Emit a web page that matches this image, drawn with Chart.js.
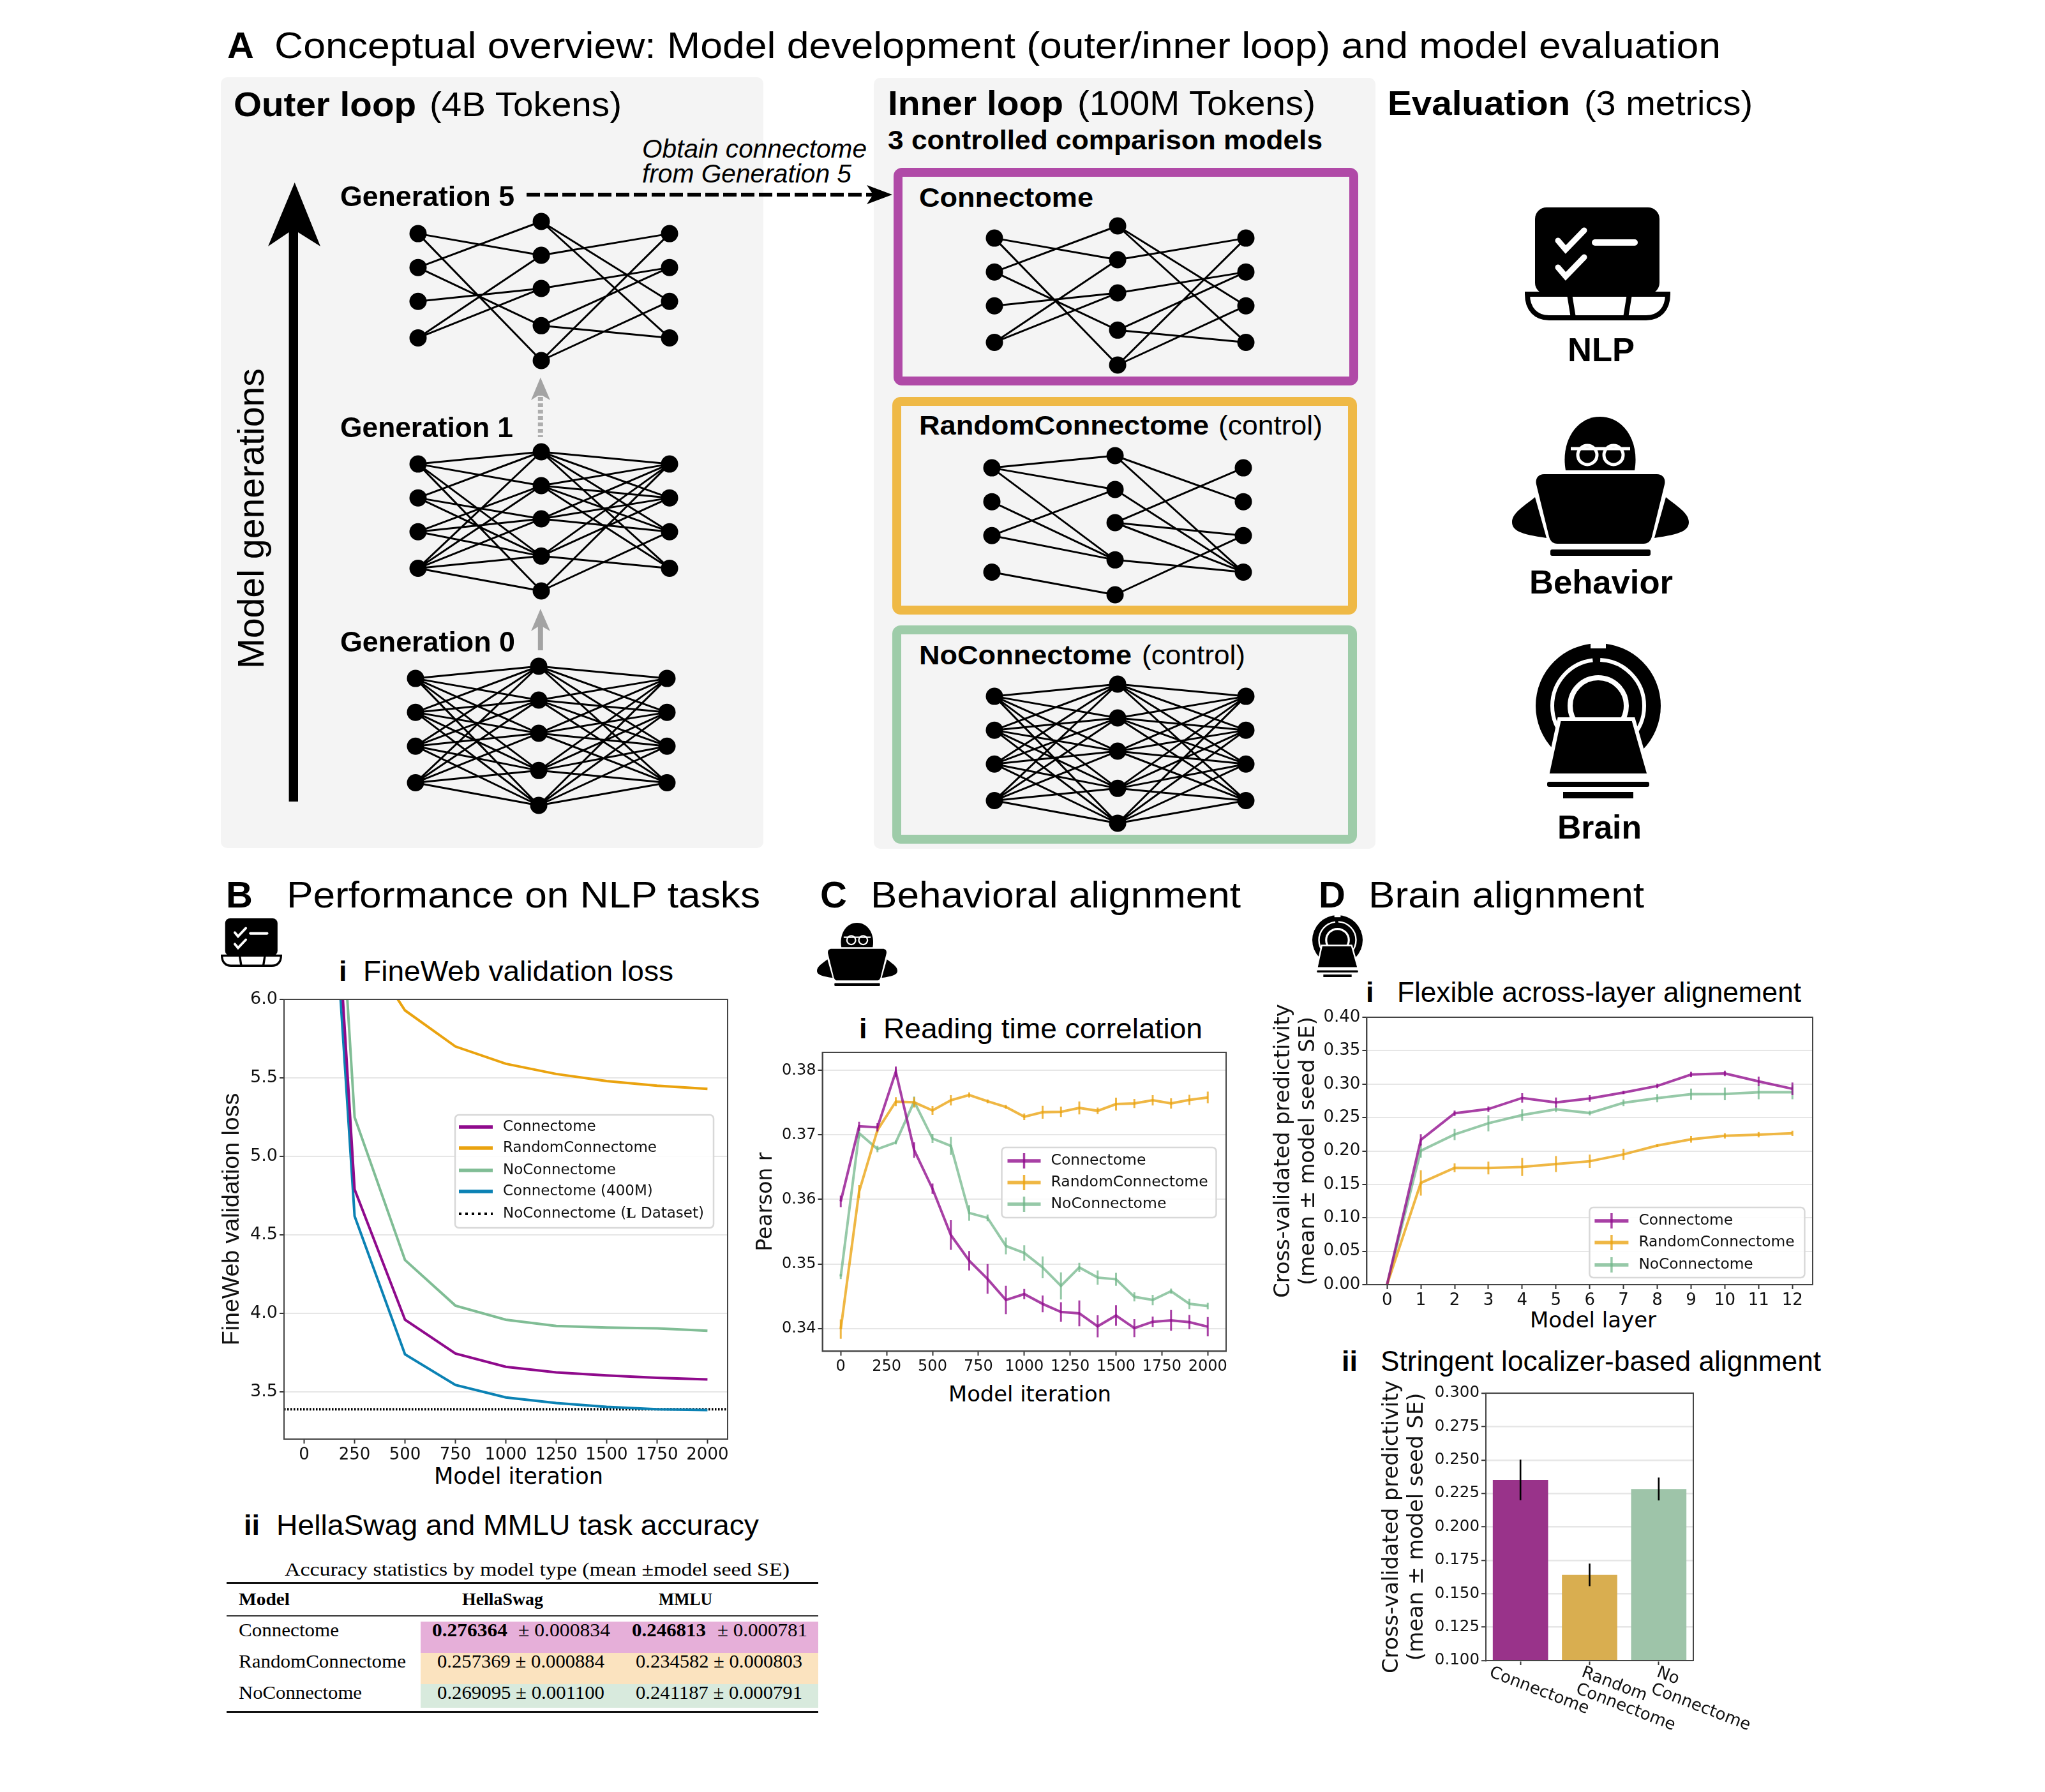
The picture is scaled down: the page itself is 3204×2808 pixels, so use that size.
<!DOCTYPE html>
<html>
<head>
<meta charset="utf-8">
<title>Connectome figure</title>
<script src="https://cdn.jsdelivr.net/npm/chart.js@4"></script>
<style>
html,body{margin:0;padding:0;background:#fff;}
#page{position:relative;width:3204px;height:2808px;overflow:hidden;background:#fff;}
#page canvas{position:absolute;}
.txt{position:absolute;white-space:pre;line-height:0;color:#000;font-family:"Liberation Sans",sans-serif;transform-origin:0 0;}
.box{position:absolute;box-sizing:border-box;}
svg{position:absolute;overflow:visible;}
</style>
</head>
<body>
<div id="page">
<svg width="0" height="0" style="left:0;top:0">
  <defs>
    <symbol id="laptop" viewBox="0 0 228 177" preserveAspectRatio="none">
      <rect x="16" y="0" width="195" height="136" rx="18" fill="#000"/>
      <path d="M4 136H224C224 160 210 173 190 173H38C18 173 4 160 4 136Z" fill="#fff" stroke="#000" stroke-width="8"/>
      <path d="M70 136L76 173M158 173L164 136" stroke="#000" stroke-width="8"/>
      <path d="M52 52L64 66L93 36M52 94L64 108L93 78" fill="none" stroke="#fff" stroke-width="9" stroke-linecap="round"/>
      <path d="M110 55H172" stroke="#fff" stroke-width="10" stroke-linecap="round"/>
    </symbol>
    <symbol id="reader" viewBox="0 0 277 218" preserveAspectRatio="none">
      <path d="M84 84C76 40 100 0 138 0C176 0 200 40 192 84Z" fill="#000"/>
      <circle cx="118" cy="60" r="15" fill="none" stroke="#fff" stroke-width="5"/>
      <circle cx="159" cy="60" r="15" fill="none" stroke="#fff" stroke-width="5"/>
      <path d="M92 50H185" stroke="#fff" stroke-width="5"/>
      <path d="M50 90H227C236 90 241 97 239 106L219 188C217 195 213 199 206 199H71C64 199 60 195 58 188L38 106C36 97 41 90 50 90Z" fill="#000"/>
      <path d="M36 126C22 138 0 150 0 165C0 178 12 184 54 190Z" fill="#000"/>
      <path d="M241 126C255 138 277 150 277 165C277 178 265 184 223 190Z" fill="#000"/>
      <rect x="60" y="208" width="157" height="10" rx="3" fill="#000"/>
    </symbol>
    <symbol id="mri" viewBox="0 0 196 243" preserveAspectRatio="none">
      <ellipse cx="98" cy="98" rx="98" ry="98" fill="#000"/>
      <rect x="86" y="0" width="24" height="8" fill="#fff"/>
      <circle cx="98" cy="98" r="72" fill="none" stroke="#fff" stroke-width="6" stroke-dasharray="330 12"/>
      <circle cx="98" cy="98" r="44" fill="none" stroke="#fff" stroke-width="8"/>
      <path d="M0 130L14 212H182L196 130V243H0Z" fill="#fff"/>
      <path d="M37 119H153L178 207H18Z" fill="#000" stroke="#fff" stroke-width="6"/>
      <rect x="18" y="217" width="160" height="8" rx="3" fill="#000"/>
      <rect x="43" y="233" width="110" height="10" fill="#000"/>
    </symbol>
  </defs>
</svg>
</div>
<script>
// panel B i: FineWeb validation loss
const lossIterations = [0, 250, 500, 750, 1000, 1250, 1500, 1750, 2000];
const lossConnectome = [10.0, 4.79, 3.96, 3.745, 3.66, 3.625, 3.605, 3.59, 3.58];
const lossRandom = [10.8, 6.42, 5.93, 5.70, 5.59, 5.525, 5.48, 5.45, 5.43];
const lossNoConn = [10.45, 5.25, 4.34, 4.05, 3.96, 3.92, 3.91, 3.905, 3.89];
const loss400M = [9.6, 4.62, 3.74, 3.545, 3.465, 3.43, 3.405, 3.39, 3.385];
const lossLDatasetX = [-100, 2100];
const lossLDataset = [3.39, 3.39];
const iterationTicks = [0, 250, 500, 750, 1000, 1250, 1500, 1750, 2000];
const lossTicks = [3.5, 4.0, 4.5, 5.0, 5.5, 6.0];

// panel C i: reading time correlation
const readIterations = [0, 100, 200, 300, 400, 500, 600, 700, 800, 900, 1000, 1100, 1200, 1300, 1400, 1500, 1600, 1700, 1800, 1900, 2000];
const readConnectome = [.3597, .37135, .37118, .3798, .36765, .36166, .35448, .3505, .34767, .34441, .34533, .34381, .34256, .34234, .34033, .34201, .34005, .34103, .34125, .34098, .34027];
const readConnectomeSE = [.0009, .0007, .00065, .0008, .0012, .0008, .0023, .0015, .0023, .0022, .0008, .0013, .0015, .002, .0017, .0016, .0014, .0008, .0016, .0011, .0015];
const readRandom = [.3399, .36122, .37075, .37516, .37505, .3738, .37537, .37619, .37521, .37434, .37282, .37352, .37358, .37418, .37374, .37478, .37488, .37537, .37488, .37543, .37581];
const readRandomSE = [.0015, .001, .0004, .0007, .0008, .0007, .0008, .0004, .0003, .0003, .0005, .001, .0008, .001, .0005, .001, .0007, .0008, .0008, .0008, .0009];
const readNoConn = [.34805, .37026, .36781, .36884, .37516, .36944, .3683, .3579, .35714, .35279, .3517, .34947, .34659, .34947, .34789, .34762, .3449, .34441, .34577, .34381, .34348];
const readNoConnSE = [.0004, .0008, .0005, .0003, .0008, .0007, .0014, .0012, .0005, .0013, .0012, .0017, .0021, .0007, .0011, .001, .0007, .0008, .0004, .0008, .0005];
const pearsonTicks = [.34, .35, .36, .37, .38];

// panel D i: flexible across-layer alignment
const layers = [0, 1, 2, 3, 4, 5, 6, 7, 8, 9, 10, 11, 12];
const layerConnectome = [0, .2166, .2563, .2627, .2793, .2725, .2785, .2874, .2972, .3143, .3160, .3041, .2930];
const layerConnectomeSE = [0, .0085, .004, .004, .007, .0075, .005, .0025, .0035, .004, .004, .007, .0095];
const layerRandom = [0, .1522, .1748, .1744, .1761, .1804, .1846, .1949, .2081, .2175, .2226, .2243, .2264];
const layerRandomSE = [0, .019, .0065, .0095, .0135, .012, .010, .0085, .002, .005, .004, .004, .004];
const layerNoConn = [0, .2004, .2247, .2414, .2537, .2623, .2567, .2721, .2789, .2849, .2853, .2878, .2878];
const layerNoConnSE = [0, .0105, .0085, .012, .0085, .004, .0035, .005, .006, .0085, .0095, .0105, .0105];
const predictivityTicks = [0, .05, .10, .15, .20, .25, .30, .35, .40];

// panel D ii: stringent localizer-based alignment
const barLabels = [['Connectome'], ['Random', 'Connectome'], ['No', 'Connectome']];
const barValues = [.2351, .1641, .2283];
const barSE = [.015, .0083, .0084];
const barTicks = [.100, .125, .150, .175, .200, .225, .250, .275, .300];

// panel B ii: accuracy table
const tableModels = ['Connectome', 'RandomConnectome', 'NoConnectome'];
const hellaMean = ['0.276364', '0.257369', '0.269095'];
const hellaSE = ['0.000834', '0.000884', '0.001100'];
const mmluMean = ['0.246813', '0.234582', '0.241187'];
const mmluSE = ['0.000781', '0.000803', '0.000791'];

// panel A: schematic networks, rows in node spacing units
const leftRows = [0, 1, 2, 3.08];
const midRows = [-0.36, 0.64, 1.62, 2.72, 3.75];
const layerPos = [0, 0.49, 1];
const sparseIn = [[0,1],[0,4],[1,0],[1,3],[2,2],[3,1],[3,2]];
const sparseOut = [[0,2],[0,3],[1,0],[2,1],[3,1],[3,3],[4,0],[4,2]];
const gen1In = [[0,0],[0,1],[0,3],[0,4],[1,0],[1,2],[1,3],[2,2],[2,3],[2,1],[3,0],[3,1],[3,2],[3,3],[3,4]];
const gen1Out = [[0,0],[0,2],[0,3],[0,1],[1,0],[1,1],[1,2],[1,3],[2,0],[2,1],[2,2],[3,0],[3,1],[3,3],[4,0],[4,2]];
const randIn = [[0,0],[0,1],[0,3],[1,3],[2,1],[2,3],[3,4]];
const randOut = [[0,1],[0,3],[1,3],[2,0],[2,2],[2,3],[3,3],[4,2]];
const fullIn = [], fullOut = [];
leftRows.forEach((a, i) => midRows.forEach((b, j) => { fullIn.push([i, j]); fullOut.push([j, i]); }));

const cPurple = '#8f0a8c', cOrange = '#eaa30f', cGreen = '#80bd95', cBlue = '#0b82b4';
const aPurple = 'rgba(143,10,140,0.78)', aOrange = 'rgba(234,163,15,0.78)', aGreen = 'rgba(110,180,135,0.72)';

Chart.defaults.font.family = '"DejaVu Sans", sans-serif';
Chart.defaults.color = '#111';
const page = document.getElementById('page');

function rect(x, y, w, h, css) {
	const d = document.createElement('div');
	d.className = 'box';
	d.style.cssText = 'left:' + x + 'px;top:' + y + 'px;width:' + w + 'px;height:' + h + 'px;' + css;
	page.appendChild(d);
}

// row: text, x, baseline, font size, target width, flags (b bold, i italic, s serif, d dejavu, r rotated)
function text(row) {
	const [s, x, y, size, w, flags] = row;
	const f = flags || '';
	const el = document.createElement('span');
	el.className = 'txt';
	el.textContent = s;
	el.style.fontSize = size + 'px';
	if (f.includes('b')) el.style.fontWeight = 'bold';
	if (f.includes('i')) el.style.fontStyle = 'italic';
	if (f.includes('s')) el.style.fontFamily = '"Liberation Serif",serif';
	if (f.includes('d')) el.style.fontFamily = '"DejaVu Sans",sans-serif';
	const off = (f.includes('s') ? 0.3315 : 0.3465) * size;
	page.appendChild(el);
	const k = w ? w / el.getBoundingClientRect().width : 1;
	if (f.includes('r')) {
		el.style.left = (x - off) + 'px';
		el.style.top = y + 'px';
		el.style.transform = 'rotate(-90deg) scaleX(' + k + ')';
	} else {
		el.style.left = x + 'px';
		el.style.top = (y - off) + 'px';
		el.style.transform = 'scaleX(' + k + ')';
	}
}

function icon(name, x, y, w, h) {
	page.insertAdjacentHTML('beforeend', '<svg style="left:' + x + 'px;top:' + y + 'px" width="' + w + '" height="' + h + '"><use href="#' + name + '" width="' + w + '" height="' + h + '"/></svg>');
}

// schematic network, one scatter chart per network
function network(x0, y0, inEdges, outEdges) {
	const pad = 20, unit = 53, span = 394;
	const c = document.createElement('canvas');
	c.width = span + 2 * pad;
	c.height = Math.round((midRows[4] - midRows[0]) * unit + 2 * pad);
	c.style.left = (x0 - pad) + 'px';
	c.style.top = (y0 + midRows[0] * unit - pad) + 'px';
	page.appendChild(c);
	const edges = [];
	inEdges.forEach(e => edges.push({x: layerPos[0], y: leftRows[e[0]]}, {x: layerPos[1], y: midRows[e[1]]}, {x: layerPos[1], y: null}));
	outEdges.forEach(e => edges.push({x: layerPos[1], y: midRows[e[0]]}, {x: layerPos[2], y: leftRows[e[1]]}, {x: layerPos[2], y: null}));
	const nodes = leftRows.map(r => ({x: layerPos[0], y: r}))
		.concat(midRows.map(r => ({x: layerPos[1], y: r})))
		.concat(leftRows.map(r => ({x: layerPos[2], y: r})));
	new Chart(c, {
		type: 'scatter',
		data: {datasets: [
			{data: nodes, pointRadius: 13.5, pointBackgroundColor: '#000', pointBorderWidth: 0, showLine: false},
			{data: edges, pointRadius: 0, borderColor: '#000', borderWidth: 3, showLine: true, spanGaps: false}
		]},
		options: {
			responsive: false, animation: false,
			layout: {autoPadding: false},
			plugins: {legend: {display: false}, tooltip: {enabled: false}},
			scales: {
				x: {display: false, min: -pad / span, max: 1 + pad / span},
				y: {display: false, reverse: true, min: midRows[0] - pad / unit, max: midRows[4] + pad / unit}
			}
		}
	});
}

// box, legend and frame that matplotlib puts round its axes
function framePlugin(p, leg) {
	return {
		id: 'frame',
		afterDatasetsDraw(chart) {
			const a = chart.chartArea, ctx = chart.ctx;
			ctx.save();
			ctx.strokeStyle = '#444';
			ctx.lineWidth = 2;
			ctx.strokeRect(a.left, a.top, a.right - a.left, a.bottom - a.top);
			if (leg) {
				const ox = p.l - a.left, oy = p.t - a.top;
				ctx.beginPath();
				ctx.roundRect(leg.x - ox, leg.y - oy, leg.w, leg.h, 6);
				ctx.fillStyle = 'rgba(255,255,255,0.85)';
				ctx.fill();
				ctx.strokeStyle = '#d8d8d8';
				ctx.lineWidth = 2.5;
				ctx.stroke();
				ctx.textBaseline = 'middle';
				chart.data.datasets.filter(d => !d.isErr).forEach((d, i) => {
					const y = leg.rows[i] - oy;
					ctx.strokeStyle = d.borderColor;
					ctx.lineWidth = d.borderDash ? 4 : 5.5;
					ctx.setLineDash(d.borderDash ? [4, 6] : []);
					ctx.beginPath();
					ctx.moveTo(leg.line[0] - ox, y);
					ctx.lineTo(leg.line[1] - ox, y);
					ctx.stroke();
					ctx.setLineDash([]);
					if (leg.bars) {
						const mx = (leg.line[0] + leg.line[1]) / 2 - ox;
						ctx.lineWidth = 3.5;
						ctx.beginPath();
						ctx.moveTo(mx, y - 12);
						ctx.lineTo(mx, y + 12);
						ctx.stroke();
					}
					ctx.fillStyle = '#111';
					let tx = leg.text - ox;
					const parts = d.label.split('(L ');
					ctx.font = leg.size + 'px "DejaVu Sans"';
					if (parts.length > 1) {
						ctx.fillText(parts[0] + '(', tx, y);
						tx += ctx.measureText(parts[0] + '(').width;
						ctx.font = 'bold ' + leg.size + 'px "Liberation Serif"';
						ctx.fillText('L', tx, y);
						tx += ctx.measureText('L').width;
						ctx.font = leg.size + 'px "DejaVu Sans"';
						ctx.fillText(' ' + parts[1], tx, y);
					} else {
						ctx.fillText(d.label, tx, y);
					}
				});
			}
			ctx.restore();
		}
	};
}

function makeCanvas(p) {
	const c = document.createElement('canvas');
	c.width = Math.round(p.yw + p.r - p.l + p.padR);
	c.height = Math.round(p.padT + p.b - p.t + p.xh);
	c.style.left = (p.l - p.yw) + 'px';
	c.style.top = (p.t - p.padT) + 'px';
	page.appendChild(c);
	return c;
}

function axisBase(p) {
	return {
		responsive: false, animation: false,
		layout: {padding: {top: p.padT, right: p.padR, left: 0, bottom: 0}},
		plugins: {legend: {display: false}, tooltip: {enabled: false}}
	};
}

function setTicks(values) {
	return axis => { axis.ticks = values.map(v => ({value: v})); };
}

function lineChart(p, xs, series, ax, leg) {
	const datasets = [];
	series.forEach(s => {
		datasets.push({label: s.label, data: (s.x || xs).map((x, i) => ({x: x, y: s.y[i]})), borderColor: s.color, borderWidth: s.width || 4, borderDash: s.dash, pointRadius: 0, tension: 0});
		if (s.se) {
			const bars = [];
			xs.forEach((x, i) => bars.push({x: x, y: s.y[i] - s.se[i]}, {x: x, y: s.y[i] + s.se[i]}, {x: x, y: null}));
			datasets.push({isErr: true, label: s.label + ' SE', data: bars, borderColor: s.color, borderWidth: 3, pointRadius: 0, spanGaps: false});
		}
	});
	const opts = axisBase(p);
	opts.scales = {
		x: {
			type: 'linear', min: ax.xMin, max: ax.xMax,
			afterBuildTicks: setTicks(ax.xTicks),
			afterFit: s => { s.height = p.xh; },
			grid: {drawOnChartArea: false, tickLength: 7, tickColor: '#333', tickWidth: 2},
			border: {color: '#444', width: 2},
			ticks: {padding: ax.xPad, maxRotation: 0, autoSkip: false, font: {size: ax.tickSize}, callback: v => String(v)}
		},
		y: {
			min: ax.yMin, max: ax.yMax,
			afterBuildTicks: setTicks(ax.yTicks),
			afterFit: s => { s.width = p.yw; },
			grid: {color: '#e6e6e6', lineWidth: 2, tickLength: 7, tickColor: '#333', tickWidth: 2},
			border: {color: '#444', width: 2},
			ticks: {padding: 3, autoSkip: false, font: {size: ax.yTickSize || ax.tickSize}, callback: v => v.toFixed(ax.yDigits)},
			title: {display: true, text: ax.yTitle, font: {size: ax.yTitleSize, family: ax.yTitleFamily, lineHeight: ax.yTitleLH || 1.2}, padding: 0}
		}
	};
	new Chart(makeCanvas(p), {type: 'line', data: {datasets: datasets}, options: opts, plugins: [framePlugin(p, leg)]});
}

// page furniture
rect(346, 121, 850, 1208, 'background:#f4f4f4;border-radius:10px;');
rect(1369, 122, 786, 1208, 'background:#f4f4f4;border-radius:10px;');
rect(1400, 263, 728, 341, 'border:14px solid #b04aa7;border-radius:13px;');
rect(1398, 622, 728, 341, 'border:14px solid #efb946;border-radius:13px;');
rect(1398, 980, 728, 342, 'border:14px solid #9ecca9;border-radius:13px;');

page.insertAdjacentHTML('beforeend', '<svg style="left:0;top:0" width="3204" height="2808">' +
	'<polygon points="461.7,286 502,386 467,364 467,1256 452.6,1256 452.6,364 420,386" fill="#000"/>' +
	'<polygon points="846.8,591.5 862,627 850,620 843,620 832,627" fill="#a3a3a3"/>' +
	'<line x1="846.8" y1="622" x2="846.8" y2="685" stroke="#adadad" stroke-width="8" stroke-dasharray="6 4"/>' +
	'<polygon points="846.8,954 862,989 850,982 843,982 832,989" fill="#a3a3a3"/>' +
	'<line x1="846.8" y1="982" x2="846.8" y2="1019" stroke="#a3a3a3" stroke-width="8"/>' +
	'<line x1="825" y1="305" x2="1370" y2="305" stroke="#000" stroke-width="6" stroke-dasharray="21 7"/>' +
	'<polygon points="1398,305 1358,290 1368,305 1358,320" fill="#000"/></svg>');

network(654.6, 366, sparseIn, sparseOut);
network(654.6, 727, gen1In, gen1Out);
network(651, 1063, fullIn, fullOut);
network(1558, 373, sparseIn, sparseOut);
network(1553.8, 733.4, randIn, randOut);
network(1558, 1091, fullIn, fullOut);

icon('laptop', 2389, 325, 228, 177);
icon('reader', 2369, 653, 277, 218);
icon('mri', 2406, 1008, 196, 243);
icon('laptop', 346, 1439, 96, 76);
icon('reader', 1280, 1446, 126, 99);
icon('mri', 2056, 1434, 79, 97);

[
	['A', 356, 91, 58, 0, 'b'],
	['Conceptual overview: Model development (outer/inner loop) and model evaluation', 430, 91, 58, 2266],
	['Outer loop', 366, 182, 54, 286, 'b'],
	['(4B Tokens)', 673, 182, 54, 301],
	['Inner loop', 1391, 180, 54, 275, 'b'],
	['(100M Tokens)', 1688, 180, 54, 373],
	['3 controlled comparison models', 1391, 235, 42, 681, 'b'],
	['Evaluation', 2174, 180, 54, 286, 'b'],
	['(3 metrics)', 2482, 180, 54, 264],
	['Connectome', 1440, 325, 42, 273, 'b'],
	['RandomConnectome', 1440, 682, 42, 454, 'b'],
	['(control)', 1909, 682, 42, 163],
	['NoConnectome', 1440, 1042, 42, 333, 'b'],
	['(control)', 1789, 1042, 42, 162],
	['NLP', 2456, 566, 52, 105, 'b'],
	['Behavior', 2396, 930, 52, 225, 'b'],
	['Brain', 2440, 1314, 52, 132, 'b'],
	['Generation 5', 533, 323, 44, 273, 'b'],
	['Generation 1', 533, 685, 44, 271, 'b'],
	['Generation 0', 533, 1021, 44, 274, 'b'],
	['Obtain connectome', 1006, 247, 40, 352, 'i'],
	['from Generation 5', 1006, 286, 40, 328, 'i'],
	['Model generations', 413, 1048, 58, 471, 'r'],
	['B', 354, 1422, 58, 0, 'b'],
	['Performance on NLP tasks', 449, 1422, 58, 742],
	['i', 531, 1538, 45, 0, 'b'],
	['FineWeb validation loss', 569, 1538, 45, 486],
	['Model iteration', 680, 2325, 36, 265, 'd'],
	['C', 1285, 1422, 58, 0, 'b'],
	['Behavioral alignment', 1364, 1422, 58, 580],
	['i', 1346, 1628, 45, 0, 'b'],
	['Reading time correlation', 1384, 1628, 45, 500],
	['Model iteration', 1486, 2196, 34.5, 255, 'd'],
	['D', 2066, 1422, 58, 0, 'b'],
	['Brain alignment', 2144, 1422, 58, 432],
	['i', 2140, 1571, 45, 0, 'b'],
	['Flexible across-layer alignement', 2189, 1571, 45, 633],
	['Model layer', 2397, 2080, 34, 198, 'd'],
	['ii', 2102, 2149, 45, 0, 'b'],
	['Stringent localizer-based alignment', 2163, 2149, 45, 690],
	['ii', 382, 2406, 45, 0, 'b'],
	['HellaSwag and MMLU task accuracy', 433, 2406, 45, 756],
	['Accuracy statistics by model type (mean \u00b1model seed SE)', 446, 2469, 30, 791, 's']
].forEach(text);

// accuracy table
rect(659, 2541, 623, 49, 'background:#e6afd9;');
rect(659, 2590, 623, 49, 'background:#fbe3bf;');
rect(659, 2639, 623, 37, 'background:#d8eadd;');
rect(355, 2479, 927, 3, 'background:#111;');
rect(355, 2531, 927, 2, 'background:#333;');
rect(355, 2681, 927, 3, 'background:#111;');
text(['Model', 374, 2515, 28, 80, 'sb']);
text(['HellaSwag', 724, 2515, 28, 127, 'sb']);
text(['MMLU', 1032, 2515, 28, 84, 'sb']);
const rowBase = [2564, 2613, 2662];
tableModels.forEach((m, i) => {
	text([m, 374, rowBase[i], 30, [157, 262, 193][i], 's']);
	if (i === 0) {
		text([hellaMean[i], 677, rowBase[i], 30, 118, 'sb']);
		text(['\u00b1 ' + hellaSE[i], 812, rowBase[i], 30, 144, 's']);
		text([mmluMean[i], 990, rowBase[i], 30, 116, 'sb']);
		text(['\u00b1 ' + mmluSE[i], 1124, rowBase[i], 30, 141, 's']);
	} else {
		text([hellaMean[i] + ' \u00b1 ' + hellaSE[i], 685, rowBase[i], 30, 262, 's']);
		text([mmluMean[i] + ' \u00b1 ' + mmluSE[i], 996, rowBase[i], 30, 261, 's']);
	}
});

// B i
lineChart({l: 445, r: 1140, t: 1566, b: 2255, yw: 104, xh: 81, padT: 24, padR: 40}, lossIterations, [
	{label: 'Connectome', y: lossConnectome, color: cPurple},
	{label: 'RandomConnectome', y: lossRandom, color: cOrange},
	{label: 'NoConnectome', y: lossNoConn, color: cGreen},
	{label: 'Connectome (400M)', y: loss400M, color: cBlue},
	{label: 'NoConnectome (L Dataset)', x: lossLDatasetX, y: lossLDataset, color: '#000', dash: [2.5, 2.5], width: 4}
], {
	xMin: -100, xMax: 2100, xTicks: iterationTicks, yMin: 3.2, yMax: 6.0, yTicks: lossTicks, yDigits: 1, xPad: 3, tickSize: 26, yTickSize: 27,
	yTitle: 'FineWeb validation loss', yTitleSize: 37.5, yTitleFamily: '"Liberation Sans"'
}, {x: 713, y: 1747, w: 405, h: 177, rows: [1766, 1799, 1834, 1867, 1902], line: [719, 772], text: 788, size: 23});

// C i
lineChart({l: 1288, r: 1920, t: 1649, b: 2117, yw: 107.5, xh: 87.6, padT: 24, padR: 40}, readIterations, [
	{label: 'Connectome', y: readConnectome, se: readConnectomeSE, color: aPurple},
	{label: 'RandomConnectome', y: readRandom, se: readRandomSE, color: aOrange},
	{label: 'NoConnectome', y: readNoConn, se: readNoConnSE, color: aGreen}
], {
	xMin: -100, xMax: 2100, xTicks: iterationTicks, yMin: 0.33646, yMax: 0.3828, yTicks: pearsonTicks, yDigits: 2, xPad: 3, tickSize: 24,
	yTitle: 'Pearson r', yTitleSize: 33
}, {x: 1569, y: 1798, w: 336, h: 110, rows: [1819, 1853, 1887], line: [1578, 1630], text: 1646, size: 23.5, bars: true});

// D i
lineChart({l: 2141, r: 2840, t: 1594, b: 2013, yw: 149.4, xh: 84, padT: 24, padR: 40}, layers, [
	{label: 'Connectome', y: layerConnectome, se: layerConnectomeSE, color: aPurple},
	{label: 'RandomConnectome', y: layerRandom, se: layerRandomSE, color: aOrange},
	{label: 'NoConnectome', y: layerNoConn, se: layerNoConnSE, color: aGreen}
], {
	xMin: -0.6, xMax: 12.6, xTicks: layers, yMin: 0, yMax: 0.40, yTicks: predictivityTicks, yDigits: 2, xPad: 3, tickSize: 26,
	yTitle: ['Cross-validated predictivity', '(mean \u00b1 model seed SE)'], yTitleSize: 33.7, yTitleLH: 1.15
}, {x: 2490, y: 1892, w: 337, h: 110, rows: [1913, 1947, 1982], line: [2498, 2551], text: 2567, size: 23.3, bars: true});

// D ii
const barP = {l: 2327.5, r: 2652, t: 2183, b: 2601.5, yw: 166, xh: 118, padT: 24, padR: 130};
const barOpts = axisBase(barP);
barOpts.scales = {
	x: {
		type: 'category', offset: true,
		afterFit: s => { s.height = barP.xh; },
		grid: {drawOnChartArea: false, offset: false, tickLength: 7, tickColor: '#333', tickWidth: 2},
		border: {color: '#444', width: 2},
		ticks: {callback: () => '', maxRotation: 0}
	},
	y: {
		min: 0.1, max: 0.3,
		afterBuildTicks: setTicks(barTicks),
		afterFit: s => { s.width = barP.yw; },
		grid: {color: '#e6e6e6', lineWidth: 2.5, tickLength: 7, tickColor: '#333', tickWidth: 2},
		border: {color: '#444', width: 2},
		ticks: {padding: 3, font: {size: 24.5}, callback: v => v.toFixed(3)},
		title: {display: true, text: ['Cross-validated predictivity', '(mean \u00b1 model seed SE)'], font: {size: 33.6, lineHeight: 1.15}, padding: 0}
	}
};
// rotated tick labels hang from their own left end, which the scale cannot do
const barLabelOffsets = [-43, -7, 2.5];
const barLabelPlugin = {
	id: 'barLabels',
	afterDraw(chart) {
		const ctx = chart.ctx, sx = chart.scales.x, y0 = chart.chartArea.bottom + 6;
		ctx.save();
		ctx.font = '26px "DejaVu Sans"';
		ctx.fillStyle = '#111';
		ctx.textBaseline = 'top';
		barLabels.forEach((lines, i) => {
			lines.forEach((line, j) => {
				const x = sx.getPixelForTick(i) + barLabelOffsets[i] - j * 9;
				ctx.save();
				ctx.translate(x, y0 + j * 26);
				ctx.rotate(21 * Math.PI / 180);
				ctx.fillText(line, 0, 0);
				ctx.restore();
			});
		});
		ctx.restore();
	}
};
new Chart(makeCanvas(barP), {
	type: 'bar',
	data: {
		labels: barLabels,
		datasets: [
			{label: 'SE', data: barValues.map((v, i) => [v - barSE[i], v + barSE[i]]), backgroundColor: '#000', barThickness: 2, grouped: false},
			{label: 'Mean', data: barValues, backgroundColor: ['#99338a', '#d9ae50', '#9ec4a9'], barPercentage: 0.8, categoryPercentage: 1, grouped: false}
		]
	},
	options: barOpts,
	plugins: [framePlugin(barP, null), barLabelPlugin]
});
</script>
</body>
</html>
